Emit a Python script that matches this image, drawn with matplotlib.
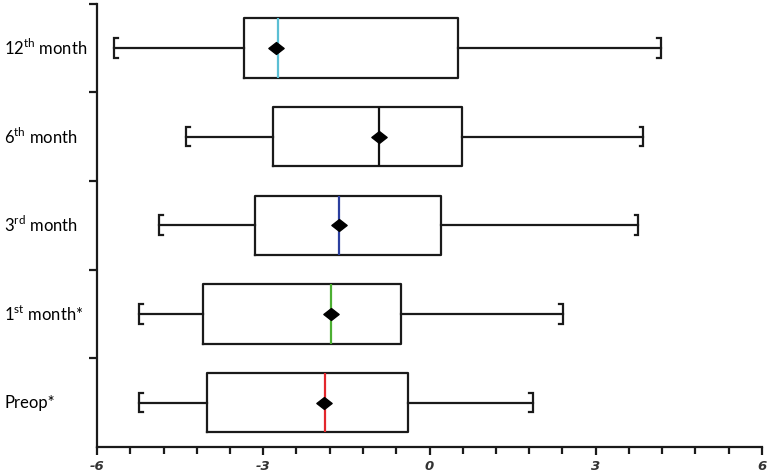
import numpy as np
import matplotlib
matplotlib.use('Agg')
from matplotlib import pyplot as plt
from matplotlib.path import Path

# 每个组的箱线统计值
groups = ['Preop*', '1st month*', '3rd month', '6th month', '12th month']
labels = ['Preop*', '1$^{\\mathrm{st}}$ month*', '3$^{\\mathrm{rd}}$ month',
          '6$^{\\mathrm{th}}$ month', '12$^{\\mathrm{th}}$ month']
mins = [-5.24, -5.24, -4.88, -4.40, -5.69]
q1s = [-4.02, -4.09, -3.15, -2.83, -3.35]
medians = [-1.89, -1.78, -1.64, -0.92, -2.74]
means = [-1.91, -1.78, -1.64, -0.92, -2.77]
q3s = [-0.38, -0.52, 0.20, 0.58, 0.52]
maxs = [1.86, 2.40, 3.77, 3.86, 4.18]
median_colors = ['#e3262c', '#4caf32', '#2b3f9e', '#111111', '#5bbfd4']

plt.rcParams['mathtext.fontset'] = 'custom'
plt.rcParams['mathtext.rm'] = 'Lato'

fig = plt.figure(figsize=(7.71, 4.72), dpi=100)
ax = fig.add_axes([97/771, 1-447/472, (762-97)/771, (447-3.5)/472])

stats = []
for i in range(len(groups)):
    stats.append(dict(label=groups[i], whislo=mins[i], q1=q1s[i], med=medians[i],
                      q3=q3s[i], whishi=maxs[i], mean=means[i], fliers=[]))

# 横向的菱形 (比高宽一点)
diamond = Path([(-1, 0), (0, 0.78), (1, 0), (0, -0.78), (-1, 0)],
               [Path.MOVETO, Path.LINETO, Path.LINETO, Path.LINETO, Path.CLOSEPOLY])

pos = np.arange(1, len(groups) + 1)
lw = 1.6
bp = ax.bxp(stats, positions=pos, orientation='horizontal', widths=0.67,
            showcaps=False, showmeans=True, showfliers=False,
            boxprops=dict(color='#1a1a1a', linewidth=lw),
            whiskerprops=dict(color='#1a1a1a', linewidth=lw),
            medianprops=dict(linewidth=lw),
            meanprops=dict(marker=diamond, markersize=11, markerfacecolor='black',
                           markeredgecolor='black'))
for m, c in zip(bp['medians'], median_colors):
    m.set_color(c)
for mk in bp['means']:
    mk.set_zorder(4)

# 须端的括号形帽子
h = 0.11
s = 0.07
for i, y in enumerate(pos):
    lo, hi = mins[i], maxs[i]
    ax.plot([lo + s, lo, lo, lo + s], [y + h, y + h, y - h, y - h],
            color='#1a1a1a', linewidth=lw, solid_joinstyle='miter')
    ax.plot([hi - s, hi, hi, hi - s], [y + h, y + h, y - h, y - h],
            color='#1a1a1a', linewidth=lw, solid_joinstyle='miter')

ax.set_xlim(-6, 6)
ax.set_ylim(0.5, 5.5)
ax.spines['top'].set_visible(False)
ax.spines['right'].set_visible(False)
for sp in ['left', 'bottom']:
    ax.spines[sp].set_linewidth(lw)
    ax.spines[sp].set_color('#1a1a1a')

ax.set_xticks([-6, -3, 0, 3, 6])
ax.set_xticks(np.arange(-6, 6.01, 0.6), minor=True)
ax.set_xticklabels(['-6', '-3', '0', '3', '6'], fontsize=9.5, fontstyle='italic',
                   fontweight='bold', color='#333333')
ax.tick_params(axis='x', which='major', length=6, width=lw, color='#1a1a1a', pad=3)
ax.tick_params(axis='x', which='minor', length=5, width=lw, color='#1a1a1a')

ax.set_yticks(np.arange(1.5, 5.6, 1.0))
ax.set_yticklabels([])
ax.tick_params(axis='y', which='major', length=6, width=lw, color='#1a1a1a')

ytrans = ax.get_yaxis_transform()
for y, lab in zip(pos, labels):
    ax.text(-93/665, y, lab, transform=ytrans, ha='left', va='center',
            fontsize=12, family='Lato', color='black')

fig.savefig('out.png', dpi=100)
